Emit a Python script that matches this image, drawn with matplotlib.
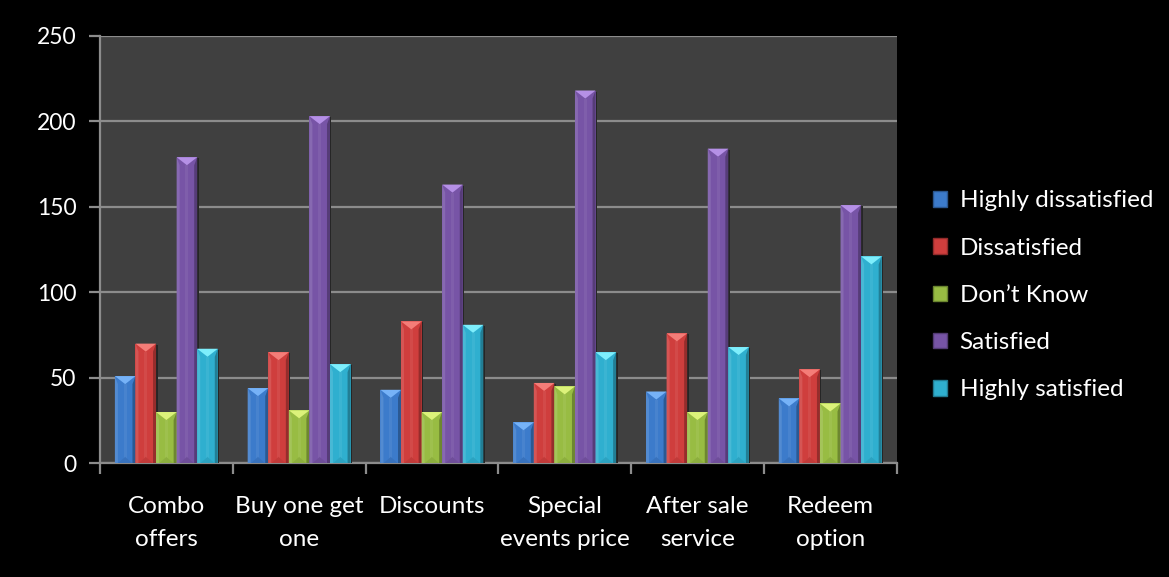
import matplotlib
matplotlib.use("Agg")
import matplotlib.pyplot as plt
from matplotlib.patches import Polygon, Rectangle
from matplotlib.colors import to_rgb
import numpy as np

categories = ["Combo\noffers", "Buy one get\none", "Discounts",
              "Special\nevents price", "After sale\nservice", "Redeem\noption"]
series_names = ["Highly dissatisfied", "Dissatisfied", "Don\u2019t Know",
                "Satisfied", "Highly satisfied"]
highly_dissatisfied = [51, 44, 43, 24, 42, 38]
dissatisfied = [70, 65, 83, 47, 76, 55]
dont_know = [30, 31, 30, 45, 30, 35]
satisfied = [179, 203, 163, 218, 184, 151]
highly_satisfied = [67, 58, 81, 65, 68, 121]
y_ticks = [0, 50, 100, 150, 200, 250]

series_values = [highly_dissatisfied, dissatisfied, dont_know,
                 satisfied, highly_satisfied]
base_colors = ["#3c7bcb", "#cf3e3d", "#98bc43", "#7754a6", "#2fafcf"]
top_colors = ["#76b2f7", "#f47d78", "#dcf27a", "#b590e6", "#7eeefc"]

plt.rcParams["font.family"] = ["Lato", "DejaVu Sans"]

fig = plt.figure(figsize=(11.69, 5.77), dpi=100, facecolor="black")
ax = fig.add_axes([0.0855, 0.197, 0.6815, 0.741])
ax.set_facecolor("#404040")

n_series = len(series_values)
bar_w = 0.155
x = np.arange(len(categories))

ax.set_xlim(-0.5, len(categories) - 0.5)
ax.set_ylim(0, 250)

# pixel -> data conversions for the bevel decoration
px_x = 1.0 / 132.8
px_y = 250.0 / 427.5


def shade(c, f):
    r, g, b = to_rgb(c)
    if f < 1:
        return (r * f, g * f, b * f)
    return (r + (1 - r) * (f - 1), g + (1 - g) * (f - 1), b + (1 - b) * (f - 1))


for i, (vals, col, tcol) in enumerate(zip(series_values, base_colors, top_colors)):
    offs = (i - (n_series - 1) / 2) * bar_w
    bars = ax.bar(x + offs, vals, width=bar_w, color=col, edgecolor="none",
                  zorder=3, label=series_names[i])
    for b in bars:
        x0 = b.get_x()
        w = b.get_width()
        h = b.get_height()
        x1 = x0 + w
        xc = x0 + w / 2
        d = 8 * px_y
        sw = 3 * px_x
        # drop shadow on the right
        ax.add_patch(Rectangle((x1, 0), 1.5 * px_x, h - 1 * px_y,
                               color="#262626", zorder=2.9, lw=0))
        # lighter left edge and darker right edge
        ax.add_patch(Polygon([(x0, 0), (x0 + sw, 0), (x0 + sw, h - d), (x0, h)],
                             closed=True, color=shade(col, 1.12), lw=0, zorder=3.1))
        ax.add_patch(Polygon([(x1, 0), (x1 - sw, 0), (x1 - sw, h - d), (x1, h)],
                             closed=True, color=shade(col, 0.72), lw=0, zorder=3.1))
        # central highlight
        ax.add_patch(Rectangle((xc - 1.5 * px_x, 0), 3 * px_x, h - d,
                               color=shade(col, 1.06), lw=0, zorder=3.05))
        # top bevel triangle
        ax.add_patch(Polygon([(x0, h), (x1, h), (xc, h - d)], closed=True,
                             color=tcol, lw=0, zorder=3.2))
        # subtle bottom bevel
        ax.add_patch(Polygon([(x0 + sw, 0), (x1 - sw, 0), (xc, min(d, h) * 0.8)],
                             closed=True, color=shade(col, 0.93), lw=0, zorder=3.2))

# grid
ax.set_yticks(y_ticks)
ax.yaxis.grid(True, color="#8c8c8c", linewidth=1.6, zorder=1)
ax.set_axisbelow(True)

for s in ["top", "right"]:
    ax.spines[s].set_visible(False)
for s in ["left", "bottom"]:
    ax.spines[s].set_color("#8c8c8c")
    ax.spines[s].set_linewidth(1.6)

ax.tick_params(axis="y", colors="#8c8c8c", length=8, width=1.6,
               labelcolor="white", labelsize=16.5, pad=9)

ax.set_xticks(x)
ax.set_xticklabels(categories, color="white", fontsize=17.5, linespacing=1.72)
ax.tick_params(axis="x", which="major", length=0, pad=23.5)
ax.set_xticks(np.arange(len(categories) + 1) - 0.5, minor=True)
ax.tick_params(axis="x", which="minor", length=8, width=1.6, colors="#8c8c8c")

handles = [Rectangle((0, 0), 1, 1, facecolor=c, edgecolor=shade(c, 0.7), lw=1)
           for c in base_colors]
leg = fig.legend(handles, series_names, loc="center left",
                 bbox_to_anchor=(0.798, 0.488), frameon=False, fontsize=17.5,
                 handlelength=0.6, handleheight=0.6, handletextpad=0.5,
                 labelspacing=1.08, borderpad=0, borderaxespad=0)
for t in leg.get_texts():
    t.set_color("white")

fig.savefig("out.png", dpi=100, facecolor="black")
